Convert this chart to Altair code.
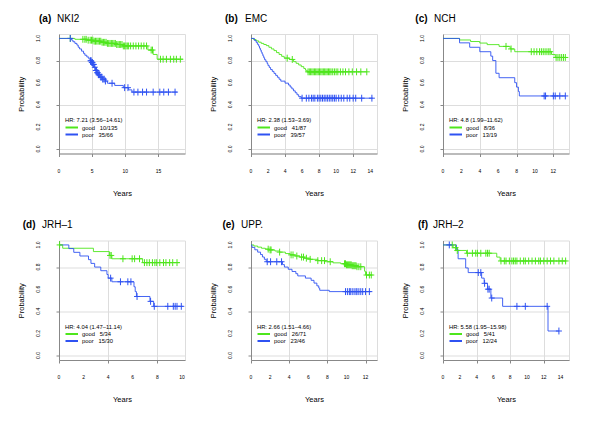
import altair as alt
import pandas as pd

GREEN = "#4ee61c"
BLUE = "#2f52f2"
FONT = "Liberation Sans"
PLUS = "M-1,0H1M0,-1.15V1.15"

# ---------------- data ----------------
# (a) NKI2
a_letter, a_name = "(a)", "NKI2"
a_hr, a_good, a_poor = "HR: 7.21 (3.56\u201314.61)", "10/135", "35/66"
a_xmax, a_xticks = 19.0, [0, 5, 10, 15]
a_g_t = [2.4, 4.2, 5.2, 6.4, 7.2, 8.6, 9.6, 13.4, 14.2, 14.8]
a_g_s = [0.992, 0.984, 0.975, 0.965, 0.955, 0.945, 0.932, 0.895, 0.855, 0.812]
a_g_end = 18.7
a_g_c = [1.7, 3.6, 3.9, 4.1, 4.4, 4.7, 4.9, 5.1, 5.3, 5.5, 5.7, 5.9, 6.1, 6.3, 6.5, 6.7, 6.9,
         7.1, 7.3, 7.5, 7.7, 7.9, 8.1, 8.3, 8.5, 8.7, 8.9, 9.1, 9.3, 9.5, 9.7, 9.9, 10.1, 10.3,
         10.5, 10.8, 11.2, 11.6, 12.0, 12.4, 12.8, 13.2, 13.9, 14.1, 15.3, 15.7, 16.2, 16.8,
         17.3, 17.7, 18.3]
a_b_t = [1.9, 2.1, 2.4, 2.7, 2.9, 3.1, 3.4, 3.7, 3.9, 4.2, 4.5, 4.7, 4.9, 5.1, 5.3, 5.5, 5.7,
         5.9, 6.2, 6.6, 7.0, 7.3, 8.4, 9.7, 10.5, 11.0]
a_b_s = [0.985, 0.97, 0.955, 0.94, 0.92, 0.905, 0.885, 0.865, 0.848, 0.832, 0.815, 0.798,
         0.782, 0.765, 0.74, 0.71, 0.69, 0.672, 0.65, 0.632, 0.615, 0.595, 0.575, 0.555,
         0.535, 0.515]
a_b_end = 17.8
a_b_c = [1.7, 4.75, 4.85, 4.95, 5.05, 5.15, 5.25, 5.4, 5.55, 5.65, 5.75, 5.85, 5.95, 6.1,
         6.3, 6.45, 6.6, 6.8, 7.0, 8.0, 9.9, 10.4, 11.3, 11.9, 12.6, 13.2, 14.2, 15.2, 15.8,
         16.5, 17.5]

# (b) EMC
b_letter, b_name = "(b)", "EMC"
b_hr, b_good, b_poor = "HR: 2.38 (1.53\u20133.69)", "41/87", "39/57"
b_xmax, b_xticks = 14.8, [0, 2, 4, 6, 8, 10, 12, 14]
b_g_t = [0.3, 0.6, 0.9, 1.2, 1.5, 1.8, 2.1, 2.4, 2.7, 3.0, 3.3, 3.6, 3.9, 4.5, 5.0, 5.3, 5.6,
         5.9, 6.2, 6.4, 6.6]
b_g_s = [0.99, 0.978, 0.966, 0.955, 0.945, 0.935, 0.92, 0.905, 0.89, 0.872, 0.855, 0.838,
         0.822, 0.81, 0.79, 0.775, 0.76, 0.745, 0.728, 0.712, 0.698]
b_g_end = 13.6
b_g_c = [4.25, 4.85, 6.7, 6.85, 7.0, 7.15, 7.3, 7.45, 7.6, 7.75, 7.9, 8.05, 8.2, 8.35, 8.5,
         8.65, 8.8, 8.95, 9.1, 9.25, 9.4, 9.6, 9.8, 10.0, 10.2, 10.5, 10.8, 11.1, 11.5, 11.9,
         12.4, 12.9, 13.6]
b_b_t = [0.4, 0.6, 0.75, 0.9, 1.0, 1.1, 1.2, 1.3, 1.4, 1.5, 1.6, 1.75, 1.9, 2.0, 2.15, 2.3,
         2.5, 2.7, 2.9, 3.1, 3.3, 3.5, 4.0, 4.4, 4.6, 4.8, 5.0, 5.2, 5.4, 5.6, 5.9]
b_b_s = [0.982, 0.965, 0.947, 0.93, 0.912, 0.895, 0.877, 0.86, 0.842, 0.825, 0.807, 0.79,
         0.772, 0.754, 0.737, 0.719, 0.702, 0.684, 0.666, 0.649, 0.631, 0.614, 0.596, 0.579,
         0.561, 0.544, 0.526, 0.509, 0.491, 0.474, 0.46]
b_b_end = 14.3
b_b_c = [6.0, 6.5, 6.8, 7.1, 7.3, 7.5, 7.8, 8.0, 8.2, 8.4, 8.6, 8.8, 9.0, 9.2, 9.4, 9.6, 9.8,
         10.0, 10.3, 10.6, 10.9, 11.3, 11.6, 12.0, 12.3, 13.0, 14.2]

# (c) NCH
c_letter, c_name = "(c)", "NCH"
c_hr, c_good, c_poor = "HR: 4.8 (1.99\u201311.62)", "8/36", "13/19"
c_xmax, c_xticks = 13.7, [0, 2, 4, 6, 8, 10, 12]
c_g_t = [1.8, 3.0, 4.0, 4.8, 6.1, 7.3, 7.8, 11.8, 12.2]
c_g_s = [0.986, 0.972, 0.958, 0.944, 0.928, 0.905, 0.88, 0.855, 0.828]
c_g_end = 13.4
c_g_c = [6.85, 7.4, 9.6, 9.9, 10.2, 10.5, 10.7, 10.9, 11.1, 11.3, 11.5, 11.65, 12.3, 12.5,
         12.7, 12.9, 13.1, 13.3]
c_b_t = [1.8, 2.9, 4.0, 5.2, 5.4, 5.75, 6.1, 7.8, 8.0, 8.2, 8.3]
c_b_s = [0.96, 0.92, 0.88, 0.84, 0.80, 0.685, 0.645, 0.60, 0.56, 0.52, 0.48]
c_b_end = 13.3
c_b_c = [11.0, 11.15, 12.0, 12.2, 12.7, 13.3]

# (d) JRH-1
d_letter, d_name = "(d)", "JRH\u20131"
d_hr, d_good, d_poor = "HR: 4.04 (1.47\u201311.14)", "5/34", "15/30"
d_xmax, d_xticks = 10.25, [0, 2, 4, 6, 8, 10]
d_g_t = [0.3, 2.8, 4.1, 4.3, 6.8]
d_g_s = [0.97, 0.94, 0.905, 0.875, 0.84]
d_g_end = 9.8
d_g_c = [0.05, 4.15, 4.25, 5.2, 5.95, 6.15, 6.55, 6.95, 7.15, 7.35, 7.6, 7.8, 7.95, 8.2, 8.5,
         8.7, 9.0, 9.25, 9.6]
d_b_t = [0.8, 1.2, 1.7, 2.4, 2.6, 2.9, 3.4, 3.9, 4.0, 4.3, 6.1, 6.2, 6.3, 7.4, 7.7]
d_b_s = [0.967, 0.933, 0.9, 0.867, 0.833, 0.80, 0.767, 0.733, 0.70, 0.667, 0.622, 0.578,
         0.534, 0.49, 0.445]
d_b_end = 10.1
d_b_c = [4.2, 5.0, 5.6, 5.85, 6.35, 7.45, 7.75, 8.85, 9.3, 9.45, 9.6, 9.95]

# (e) UPP.
e_letter, e_name = "(e)", "UPP."
e_hr, e_good, e_poor = "HR: 2.66 (1.51\u20134.66)", "26/71", "23/46"
e_xmax, e_xticks = 13.2, [0, 2, 4, 6, 8, 10, 12]
e_g_t = [0.3, 0.7, 1.1, 1.5, 1.9, 2.5, 3.0, 3.6, 4.1, 4.6, 5.1, 5.6, 6.2, 7.0, 7.8, 8.6, 9.4,
         10.0, 10.6, 11.1, 11.9, 12.0]
e_g_s = [0.99, 0.98, 0.97, 0.962, 0.955, 0.945, 0.935, 0.922, 0.91, 0.9, 0.89, 0.88, 0.87,
         0.858, 0.848, 0.838, 0.83, 0.82, 0.812, 0.803, 0.762, 0.728]
e_g_end = 12.7
e_g_c = [1.8, 2.0, 2.1, 3.0, 4.2, 4.4, 4.8, 5.3, 5.5, 5.8, 6.2, 7.0, 7.4, 7.7, 8.3, 9.8, 9.9,
         10.0, 10.1, 10.2, 10.3, 10.4, 10.5, 10.6, 10.7, 10.8, 10.9, 11.0, 11.1, 11.3, 11.5,
         12.1, 12.4, 12.6]
e_b_t = [0.1, 0.4, 0.7, 1.0, 1.2, 1.4, 1.6, 3.3, 3.5, 3.9, 4.3, 4.7, 4.9, 5.7, 6.3, 6.6, 6.9,
         7.1, 7.2, 8.2]
e_b_s = [0.978, 0.956, 0.935, 0.913, 0.891, 0.87, 0.848, 0.822, 0.80, 0.78, 0.76, 0.74, 0.72,
         0.70, 0.68, 0.655, 0.63, 0.61, 0.59, 0.578]
e_b_end = 12.6
e_b_c = [1.7, 2.05, 2.7, 3.2, 9.9, 10.1, 10.3, 10.4, 10.6, 10.8, 11.0, 11.1, 11.3, 11.5, 11.7,
         12.0, 12.4]

# (f) JRH-2
f_letter, f_name = "(f)", "JRH\u20132"
f_hr, f_good, f_poor = "HR: 5.58 (1.95\u201315.98)", "5/41", "12/24"
f_xmax, f_xticks = 15.0, [0, 2, 4, 6, 8, 10, 12, 14]
f_g_t = [1.2, 1.7, 2.8, 6.4, 6.8]
f_g_s = [0.975, 0.95, 0.925, 0.89, 0.855]
f_g_end = 14.7
f_g_c = [1.1, 1.5, 1.7, 2.9, 3.5, 3.9, 4.1, 4.5, 5.1, 5.3, 5.5, 6.9, 7.3, 7.5, 7.9, 8.2, 8.4,
         8.6, 8.8, 9.2, 9.6, 9.8, 10.2, 10.6, 11.0, 11.4, 11.6, 12.0, 12.4, 12.8, 13.2, 13.8,
         14.2, 14.6]
f_b_t = [1.6, 1.8, 2.7, 3.0, 4.6, 4.9, 5.3, 5.7, 7.1, 12.5]
f_b_s = [0.958, 0.875, 0.792, 0.75, 0.70, 0.653, 0.60, 0.52, 0.445, 0.222]
f_b_end = 13.8
f_b_c = [0.75, 4.2, 4.5, 4.95, 5.35, 5.5, 5.8, 8.8, 9.8, 12.4, 13.8]

y_ticks = [0.0, 0.2, 0.4, 0.6, 0.8, 1.0]

# layout offsets of the panel titles (pixels, relative to plot area)
title_dx = {"a": (-20, -2), "b": (-26, -6), "c": (-27.7, -9),
            "d": (-36.3, -17), "e": (-28.6, -10), "f": (-25, -10)}

H = 119.5

panels = []
for k in "abcdef":
    g = globals()
    panels.append(dict(
        key=k, letter=g[k + "_letter"], name=g[k + "_name"], hr=g[k + "_hr"],
        good=g[k + "_good"], poor=g[k + "_poor"], xmax=g[k + "_xmax"],
        xticks=g[k + "_xticks"],
        curves={"good": (g[k + "_g_t"], g[k + "_g_s"], g[k + "_g_end"], g[k + "_g_c"]),
                "poor": (g[k + "_b_t"], g[k + "_b_s"], g[k + "_b_end"], g[k + "_b_c"])},
    ))


def surv_at(t, times, surv):
    s = 1.0
    for ti, si in zip(times, surv):
        if ti <= t:
            s = si
    return s


def make_panel(p):
    line_rows, cens_rows = [], []
    for grp, (times, surv, end, cens) in p["curves"].items():
        pts = [(0.0, 1.0)] + list(zip(times, surv)) + [(end, surv[-1])]
        for i, (t, s) in enumerate(pts):
            line_rows.append({"t": t, "s": s, "grp": grp, "i": i})
        for t in cens:
            cens_rows.append({"t": t, "s": surv_at(t, times, surv), "grp": grp})
    lines = pd.DataFrame(line_rows)
    cens = pd.DataFrame(cens_rows)
    xt = pd.DataFrame({"t": p["xticks"]})
    yt = pd.DataFrame({"s": y_ticks})
    ann = pd.DataFrame([{"letter": p["letter"], "name": p["name"], "hr": p["hr"],
                         "good": "good\u00a0\u00a0\u00a0" + p["good"],
                         "poor": "poor\u00a0\u00a0\u00a0" + p["poor"]}])

    x = alt.X("t:Q", scale=alt.Scale(domain=[0, p["xmax"]], nice=False, zero=False),
              axis=alt.Axis(values=p["xticks"], labels=False, title="Years", tickSize=3,
                            titleFontSize=7.5, titlePadding=32, titleFontWeight="normal",
                            titleFont=FONT))
    y = alt.Y("s:Q", scale=alt.Scale(domain=[-0.04, 1.04], nice=False, zero=False),
              axis=alt.Axis(values=y_ticks, labels=False, title="Probability", tickSize=3,
                            titleFontSize=7.5, titlePadding=30, titleFontWeight="normal",
                            titleFont=FONT))
    color = alt.Color("grp:N", scale=alt.Scale(domain=["good", "poor"], range=[GREEN, BLUE]),
                      legend=None)

    line = alt.Chart(lines).mark_line(interpolate="step-after", strokeWidth=0.9).encode(
        x=x, y=y, color=color, order="i:Q")
    marks = alt.Chart(cens).mark_point(shape=PLUS, size=36, filled=False, strokeWidth=1,
                                       opacity=1).encode(x="t:Q", y="s:Q", color=color)

    txt = dict(font=FONT, color="black")
    xlab = alt.Chart(xt).mark_text(align="center", baseline="middle", fontSize=5, **txt).encode(
        x="t:Q", y=alt.value(H + 17), text=alt.Text("t:Q", format="d"))
    ylab = alt.Chart(yt).mark_text(align="center", baseline="bottom", angle=270, fontSize=5,
                                   **txt).encode(
        y="s:Q", x=alt.value(-18), text=alt.Text("s:Q", format=".1f"))

    base = alt.Chart(ann)
    hr = base.mark_text(align="left", baseline="middle", fontSize=5.8, **txt).encode(
        x=alt.value(6), y=alt.value(86), text="hr:N")
    gline = base.mark_rule(color=GREEN, strokeWidth=2).encode(
        x=alt.value(6.5), x2=alt.value(19), y=alt.value(93.5))
    bline = base.mark_rule(color=BLUE, strokeWidth=2).encode(
        x=alt.value(6.5), x2=alt.value(19), y=alt.value(100.5))
    gtxt = base.mark_text(align="left", baseline="middle", fontSize=5.8, **txt).encode(
        x=alt.value(23), y=alt.value(93.5), text="good:N")
    btxt = base.mark_text(align="left", baseline="middle", fontSize=5.8, **txt).encode(
        x=alt.value(23), y=alt.value(100.5), text="poor:N")
    ldx, ndx = title_dx[p["key"]]
    tl = base.mark_text(align="left", baseline="alphabetic", fontSize=10,
                        fontWeight="bold", **txt).encode(
        x=alt.value(ldx), y=alt.value(-12.5), text="letter:N")
    tn = base.mark_text(align="left", baseline="alphabetic", fontSize=10, **txt).encode(
        x=alt.value(ndx), y=alt.value(-12.5), text="name:N")

    return alt.layer(line, marks, xlab, ylab, hr, gline, bline, gtxt, btxt, tl, tn).properties(
        width=126, height=H)


chart = alt.concat(*[make_panel(p) for p in panels], columns=3,
                   spacing={"row": 86.5, "column": 66}, bounds="flush").properties(
    padding={"left": 9, "top": 5, "right": 5, "bottom": 5}
).configure_view(strokeWidth=0).configure_axis(
    grid=False, domainColor="black", domainWidth=0.8, tickColor="black", tickWidth=0.8,
    labelFont=FONT, titleFont=FONT, labelColor="black", titleColor="black",
    titleFontWeight="normal"
).configure(background="white")

chart.save("out.html", embed_options={"renderer": "svg", "actions": False})
